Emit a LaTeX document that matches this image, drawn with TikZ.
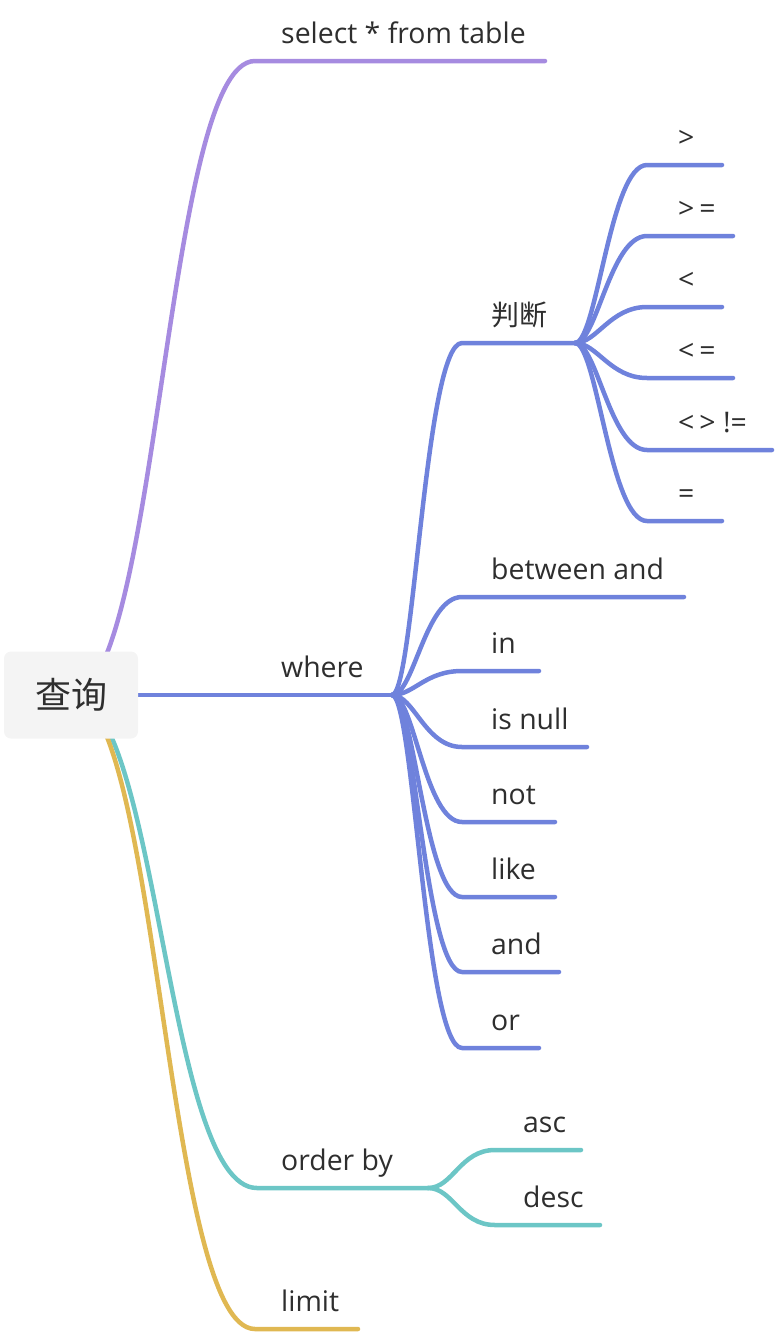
\documentclass[tikz,border=0pt]{standalone}
\usepackage{fontspec}
\setmainfont{Open Sans}
\newfontfamily\cjk{Noto Sans CJK SC}
\usetikzlibrary{backgrounds}
\definecolor{cpurple}{HTML}{A68BE0}
\definecolor{cblue}{HTML}{6F82DC}
\definecolor{cteal}{HTML}{6CC6C6}
\definecolor{cyellow}{HTML}{E0B852}
\definecolor{ctext}{HTML}{2E2E2E}
\definecolor{croot}{HTML}{F4F4F4}
\tikzset{
  lbl/.style={anchor=base west, inner sep=0pt, text=ctext, font=\fontsize{28.4}{32}\selectfont},
  cjklbl/.style={anchor=base west, inner sep=0pt, text=ctext, font=\cjk\fontsize{28}{32}\selectfont},
  rootbox/.style={rectangle, rounded corners=7pt, fill=croot, inner sep=0pt,
    minimum width=134pt, minimum height=87pt, text=ctext, font=\cjk\fontsize{36}{40}\selectfont},
  conn/.style={line width=4.5pt, line cap=round, line join=round},
}
\begin{document}
\begin{tikzpicture}[x=1pt,y=-1pt]
\useasboundingbox (0,0) rectangle (776,1336);
% root
\node[rootbox] (root) at (71,695) {查询};
% first level labels
\node[lbl] (select) at (281,43) {select * from table};
\node[lbl] (where) at (281,677) {where};
\node[lbl] (orderby) at (281,1170) {order by};
\node[lbl] (limit) at (281,1311) {limit};
% where children labels
\node[cjklbl] (judge) at (491,325) {判断};
\node[lbl] (between) at (491,579) {between and};
\node[lbl] (in) at (491,653) {in};
\node[lbl] (isnull) at (491,729) {is null};
\node[lbl] (not) at (491,804) {not};
\node[lbl] (like) at (491,879) {like};
\node[lbl] (and) at (491,954) {and};
\node[lbl] (or) at (491,1030) {or};
% judge children labels
\node[lbl] (gt) at (678,147) {>};
\node[lbl] (ge) at (678,218) {>\kern5pt=};
\node[lbl] (lt) at (678,289) {<};
\node[lbl] (le) at (678,360) {<\kern5pt=};
\node[lbl] (ne) at (678,432) {<\kern5pt> !=};
\node[lbl] (eq) at (678,503) {=};
% order by children labels
\node[lbl] (asc) at (523,1132) {asc};
\node[lbl] (desc) at (523,1207) {desc};

% junctions
\coordinate (jwhere) at (392,695);
\coordinate (jjudge) at (575,343);
\coordinate (jorder) at (428,1188);

\begin{scope}[on background layer]
% level 1
\draw[conn, cpurple] (root.center) .. controls +(88,0) and +(-90,0) .. (255,61) coordinate (cselect) -- (545,61) coordinate (eselect);
\draw[conn, cblue] (root.center) -- (jwhere);
\draw[conn, cteal] (root.center) .. controls +(88,0) and +(-92,0) .. (257,1188) coordinate (corder) -- (jorder);
\draw[conn, cyellow] (root.center) .. controls +(88,0) and +(-90,0) .. (255,1329) coordinate (climit) -- (358,1329) coordinate (elimit);
% where children
\foreach \n/\y/\e in {judge/343/575, between/597/684, in/671/539, isnull/747/587, not/822/555, like/897/555, and/972/559, or/1048/539}{
  \draw[conn, cblue] (jwhere) .. controls +(22,0) and +(-37,0) .. (462,\y) coordinate (c\n) -- (\e,\y) coordinate (e\n);
}
% judge children
\foreach \n/\y/\e in {gt/165/722, ge/236/733, lt/307/722, le/378/733, ne/450/772, eq/521/722}{
  \draw[conn, cblue] (jjudge) .. controls +(22,0) and +(-37,0) .. (647,\y) coordinate (c\n) -- (\e,\y) coordinate (e\n);
}
% order by children
\foreach \n/\y/\e in {asc/1150/581, desc/1225/600}{
  \draw[conn, cteal] (jorder) .. controls +(25,0) and +(-35,0) .. (495,\y) coordinate (c\n) -- (\e,\y) coordinate (e\n);
}
\end{scope}
\end{tikzpicture}
\end{document}
